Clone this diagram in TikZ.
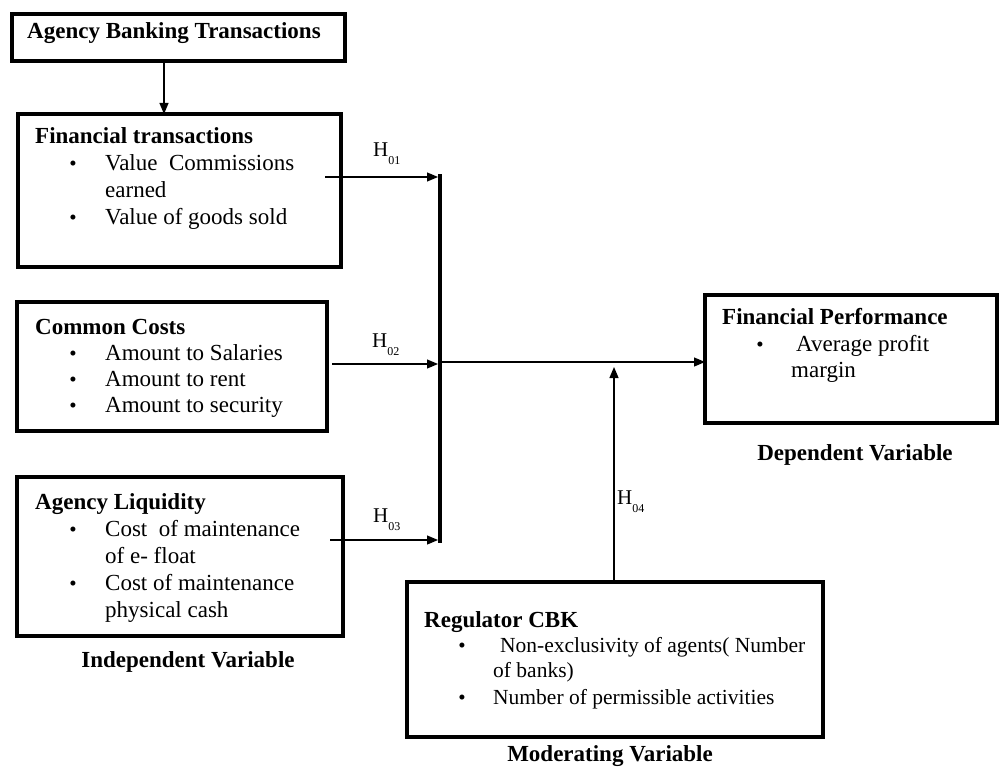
\documentclass[tikz,border=0pt]{standalone}
\usepackage{fontspec}
\setmainfont{Liberation Serif}
\usetikzlibrary{arrows.meta}
\tikzset{
  box/.style={draw, line width=3.6pt, inner sep=0pt, outer sep=0pt},
  arr/.style={-{Triangle[length=11pt,width=9pt]}, line width=1.2pt},
  txt/.style={anchor=base west, inner sep=0pt, font=\fontsize{23}{27}\selectfont},
  stxt/.style={anchor=base west, inner sep=0pt, font=\fontsize{21.5}{25}\selectfont},
  ttl/.style={anchor=base west, inner sep=0pt, font=\fontsize{23}{27}\selectfont\bfseries},
  cttl/.style={anchor=base, inner sep=0pt, font=\fontsize{23}{27}\selectfont\bfseries},
  bul/.style={anchor=base, inner sep=0pt, font=\fontsize{21}{25}\selectfont},
  hlab/.style={anchor=base west, inner sep=0pt, font=\fontsize{21}{24}\selectfont},
}
\newcommand{\hsub}[1]{H\raisebox{-8pt}{\fontsize{12}{12}\selectfont #1}}
\begin{document}
\begin{tikzpicture}[x=1pt,y=-1pt]
\useasboundingbox (0,0) rectangle (1000,767);

% boxes
\node[box, minimum width=333pt, minimum height=47pt] (abt) at (178.5,37.5) {};
\node[box, minimum width=323pt, minimum height=153pt] (ft) at (179.5,190.5) {};
\node[box, minimum width=310pt, minimum height=129pt] (cc) at (172,366.5) {};
\node[box, minimum width=326pt, minimum height=159pt] (al) at (180,556.5) {};
\node[box, minimum width=292pt, minimum height=128pt] (fp) at (851,359) {};
\node[box, minimum width=416pt, minimum height=155pt] (reg) at (615,659.5) {};

% vertical bar
\node[fill=black, inner sep=0pt, outer sep=0pt, minimum width=4pt, minimum height=369pt] (bar) at (440,358.5) {};

% Agency Banking Transactions
\node[ttl] (abtt) at (27,39) {Agency Banking Transactions};

% Financial transactions
\node[ttl] (ftt) at (35,144) {Financial transactions};
\node[bul] (ftb1) at (73,171) {\textbullet};
\node[txt] (ft1) at (105,171) {Value\ \ Commissions};
\node[txt] (ft2) at (105,198) {earned};
\node[bul] (ftb2) at (73,225) {\textbullet};
\node[txt] (ft3) at (105,225) {Value of goods sold};

% Common Costs
\node[ttl] (cct) at (35,334) {Common Costs};
\node[bul] (ccb1) at (73,360) {\textbullet};
\node[txt] (cc1) at (105,360) {Amount to Salaries};
\node[bul] (ccb2) at (73,386) {\textbullet};
\node[txt] (cc2) at (105,386) {Amount to rent};
\node[bul] (ccb3) at (73,412) {\textbullet};
\node[txt] (cc3) at (105,412) {Amount to security};

% Agency Liquidity
\node[ttl] (alt) at (35,509) {Agency Liquidity};
\node[bul] (alb1) at (73,536) {\textbullet};
\node[txt] (al1) at (105,536) {Cost\ \ of maintenance};
\node[txt] (al2) at (105,563) {of e- float};
\node[bul] (alb2) at (73,590) {\textbullet};
\node[txt] (al3) at (105,590) {Cost of maintenance};
\node[txt] (al4) at (105,617) {physical cash};

\node[cttl] (iv) at (188,667) {Independent Variable};

% Financial Performance
\node[ttl] (fpt) at (722,324) {Financial Performance};
\node[bul] (fpb1) at (760,351) {\textbullet};
\node[txt] (fp1) at (796,351) {Average profit};
\node[txt] (fp2) at (791,377) {margin};
\node[cttl] (dv) at (855,460) {Dependent Variable};

% Regulator CBK
\node[ttl] (regt) at (424,627) {Regulator CBK};
\node[bul] (regb1) at (462,652) {\textbullet};
\node[stxt] (reg1) at (500,652) {Non-exclusivity of agents( Number};
\node[stxt] (reg2) at (493,677) {of banks)};
\node[bul] (regb2) at (462,704) {\textbullet};
\node[stxt] (reg3) at (493,704) {Number of permissible activities};
\node[cttl] (mv) at (610,761) {Moderating Variable};

% connectors
\coordinate (abx) at (164,0);
\draw[arr] (abt.south -| abx) -- (ft.north -| abx);

\coordinate (h1s) at (325,177);
\coordinate (h2s) at (332,364);
\coordinate (h3s) at (330,540);
\draw[arr] (h1s) -- (bar.west |- h1s);
\draw[arr] (h2s) -- (bar.west |- h2s);
\draw[arr] (h3s) -- (bar.west |- h3s);

\coordinate (mid) at (440,362);
\draw[arr] (bar.east |- mid) -- (fp.west |- mid);

\coordinate (modtip) at (0,367);
\draw[arr] (reg.north -| 614,0) -- (modtip -| 614,0);

% hypothesis labels
\node[hlab] (h1) at (373,157) {\hsub{01}};
\node[hlab] (h2) at (372,347) {\hsub{02}};
\node[hlab] (h3) at (373,522) {\hsub{03}};
\node[hlab] (h4) at (617,504) {\hsub{04}};
\end{tikzpicture}
\end{document}
